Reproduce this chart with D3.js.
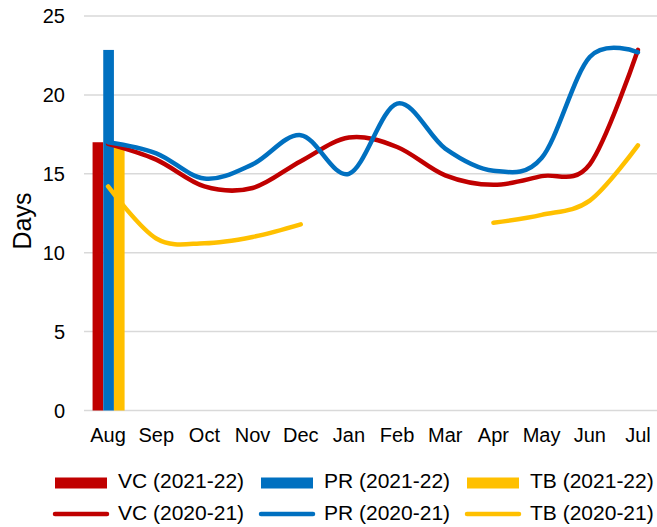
<!DOCTYPE html>
<html lang="en">
<head>
  <meta charset="UTF-8">
  <title>Days</title>
  <style>
    body {
      margin: 0;
      padding: 0;
      background-color: #ffffff;
      font-family: "Liberation Sans", Arial, sans-serif;
    }
    .grid line {
      stroke: #d9d9d9;
      stroke-width: 1.5;
    }
    .tick-label {
      font-size: 20px;
      fill: #000;
    }
    .legend text {
      font-size: 21px;
      fill: #000;
    }
  </style>
  <script src="https://d3js.org/d3.v7.min.js"></script>
</head>
<body>
  <div id="chart"></div>
  <script>
    const months = ["Aug", "Sep", "Oct", "Nov", "Dec", "Jan", "Feb", "Mar", "Apr", "May", "Jun", "Jul"];
    const yTicks = [0, 5, 10, 15, 20, 25];

    // 2021-22 only has August so far, drawn as bars
    const barSeries = ["VC (2021-22)", "PR (2021-22)", "TB (2021-22)"];
    const barValues = [17.0, 22.85, 16.7];

    // 2020-21 full year, smoothed lines (TB missing Jan-Mar)
    const lineSeries = ["VC (2020-21)", "PR (2020-21)", "TB (2020-21)"];
    const vc2021 = [16.9, 15.9, 14.2, 14.1, 15.8, 17.3, 16.7, 14.9, 14.3, 14.85, 15.6, 22.85];
    const pr2021 = [17.0, 16.3, 14.7, 15.6, 17.45, 15.0, 19.45, 16.6, 15.2, 16.0, 22.4, 22.7];
    const tb2021 = [14.2, 10.9, 10.6, 11.0, 11.8, null, null, null, 11.9, 12.4, 13.3, 16.8];

    const colors = ["#c00000", "#0070c0", "#ffc000"];

    const width = 657;
    const height = 527;

    const svg = d3.select("#chart")
      .append("svg")
      .attr("width", width)
      .attr("height", height);

    const x = d3.scaleBand()
      .domain(months)
      .range([84, 662]);

    const y = d3.scaleLinear()
      .domain([0, 25])
      .range([410.5, 16]);

    // gridlines
    svg.append("g")
      .attr("class", "grid")
      .selectAll("line")
      .data(yTicks)
      .enter()
      .append("line")
      .attr("x1", 84)
      .attr("x2", width)
      .attr("y1", d => y(d))
      .attr("y2", d => y(d));

    // y tick labels
    svg.append("g")
      .selectAll("text")
      .data(yTicks)
      .enter()
      .append("text")
      .attr("class", "tick-label")
      .attr("x", 65)
      .attr("y", d => y(d))
      .attr("dy", "0.35em")
      .attr("text-anchor", "end")
      .text(d => d);

    // x tick labels
    svg.append("g")
      .selectAll("text")
      .data(months)
      .enter()
      .append("text")
      .attr("class", "tick-label")
      .attr("x", d => x(d) + x.bandwidth() / 2)
      .attr("y", 442)
      .attr("text-anchor", "middle")
      .text(d => d);

    // axis title
    svg.append("text")
      .attr("transform", "translate(31, 221) rotate(-90)")
      .attr("text-anchor", "middle")
      .style("font-size", "25px")
      .text("Days");

    // bars for August
    const groupWidth = x.bandwidth() * 0.665;
    const xSub = d3.scaleBand()
      .domain(barSeries)
      .range([0, groupWidth]);

    svg.append("g")
      .selectAll("rect")
      .data(barSeries)
      .enter()
      .append("rect")
      .attr("x", d => x(months[0]) + (x.bandwidth() - groupWidth) / 2 + 0.5 + xSub(d))
      .attr("width", xSub.bandwidth())
      .attr("y", (d, i) => y(barValues[i]))
      .attr("height", (d, i) => y(0) - y(barValues[i]))
      .attr("fill", (d, i) => colors[i]);

    // lines
    const line = d3.line()
      .defined(d => d.v != null)
      .x(d => x(d.m) + x.bandwidth() / 2)
      .y(d => y(d.v))
      .curve(d3.curveCatmullRom.alpha(0));

    [vc2021, pr2021, tb2021].forEach((vals, i) => {
      svg.append("path")
        .datum(months.map((m, j) => ({ m: m, v: vals[j] })))
        .attr("fill", "none")
        .attr("stroke", colors[i])
        .attr("stroke-width", 4.5)
        .attr("stroke-linecap", "round")
        .attr("stroke-linejoin", "round")
        .attr("d", line);
    });

    // legend
    const legend = svg.append("g").attr("class", "legend");
    const colX = [55, 261, 467];

    barSeries.forEach((name, i) => {
      legend.append("rect")
        .attr("x", colX[i])
        .attr("y", 477.5)
        .attr("width", 52)
        .attr("height", 11)
        .attr("fill", colors[i]);
      legend.append("text")
        .attr("x", colX[i] + 63)
        .attr("y", 481)
        .attr("dy", "0.35em")
        .text(name);
    });

    lineSeries.forEach((name, i) => {
      legend.append("line")
        .attr("x1", colX[i])
        .attr("x2", colX[i] + 52)
        .attr("y1", 514)
        .attr("y2", 514)
        .attr("stroke", colors[i])
        .attr("stroke-width", 4.5)
        .attr("stroke-linecap", "round");
      legend.append("text")
        .attr("x", colX[i] + 63)
        .attr("y", 513)
        .attr("dy", "0.35em")
        .text(name);
    });
  </script>
</body>
</html>
